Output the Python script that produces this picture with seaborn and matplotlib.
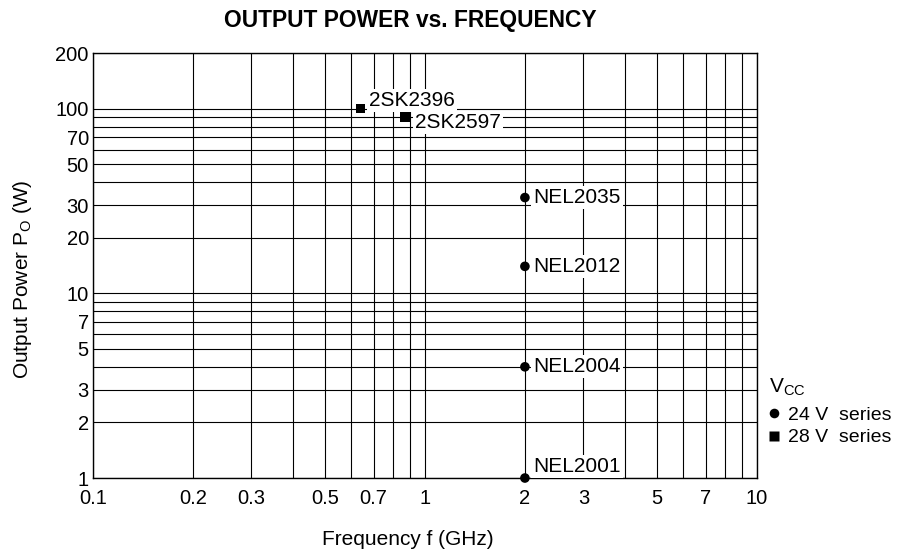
import numpy as np
import pandas as pd
import matplotlib as mpl
import matplotlib.pyplot as plt
from matplotlib.ticker import LogLocator, FixedLocator, FixedFormatter, NullFormatter
import seaborn as sns

# Datos
devices = ['2SK2396', '2SK2597', 'NEL2035', 'NEL2012', 'NEL2004', 'NEL2001']
freq_ghz = [0.64, 0.87, 2.0, 2.0, 2.0, 2.0]
power_w = [100, 90, 33, 14, 4, 1]
series = ['28 V  series', '28 V  series', '24 V  series', '24 V  series', '24 V  series', '24 V  series']

x_ticks = [0.1, 0.2, 0.3, 0.5, 0.7, 1, 2, 3, 5, 7, 10]
x_labels = ['0.1', '0.2', '0.3', '0.5', '0.7', '1', '2', '3', '5', '7', '10']
y_ticks = [1, 2, 3, 5, 7, 10, 20, 30, 50, 70, 100, 200]
y_labels = ['1', '2', '3', '5', '7', '10', '20', '30', '50', '70', '100', '200']

# offsets de las etiquetas (pt)
label_offsets = {'2SK2396': (6, 6), '2SK2597': (7, -4), 'NEL2035': (6, 0),
                 'NEL2012': (6, 0), 'NEL2004': (6, 0), 'NEL2001': (6, 8)}

df = pd.DataFrame({'device': devices, 'freq': freq_ghz, 'power': power_w, 'series': series})

sns.set_theme(style='white')
plt.rcParams['font.family'] = ['Liberation Sans', 'DejaVu Sans']
plt.rcParams['mathtext.fontset'] = 'custom'
plt.rcParams['mathtext.rm'] = 'Liberation Sans'
plt.rcParams['text.color'] = 'black'
plt.rcParams['axes.labelcolor'] = 'black'
plt.rcParams['xtick.color'] = 'black'
plt.rcParams['ytick.color'] = 'black'

fig = plt.figure(figsize=(9.02, 5.57), dpi=100)
ax = fig.add_axes([0.1031, 0.1418, 0.8392 - 0.1031, 0.9048 - 0.1418])

sns.scatterplot(data=df, x='freq', y='power', style='series',
                style_order=['24 V  series', '28 V  series'],
                markers={'24 V  series': 'o', '28 V  series': 's'},
                color='black', s=48, edgecolor='none', ax=ax, zorder=5, clip_on=False)

ax.set_xscale('log')
ax.set_yscale('log')
ax.set_xlim(0.1, 10)
ax.set_ylim(1, 200)

ax.xaxis.set_major_locator(FixedLocator(x_ticks))
ax.xaxis.set_major_formatter(FixedFormatter(x_labels))
ax.yaxis.set_major_locator(FixedLocator(y_ticks))
ax.yaxis.set_major_formatter(FixedFormatter(y_labels))
ax.xaxis.set_minor_locator(LogLocator(base=10, subs=np.arange(2, 10)))
ax.yaxis.set_minor_locator(LogLocator(base=10, subs=np.arange(2, 10)))
ax.xaxis.set_minor_formatter(NullFormatter())
ax.yaxis.set_minor_formatter(NullFormatter())

ax.grid(True, which='both', color='black', linewidth=0.8)
ax.set_axisbelow(True)
ax.tick_params(which='both', length=0, labelsize=14.5)
ax.tick_params(axis='x', pad=8)
ax.tick_params(axis='y', pad=3)
for sp in ax.spines.values():
    sp.set_color('black')
    sp.set_linewidth(1.0)

# etiquetas de los dispositivos
for d, fx, py in zip(devices, freq_ghz, power_w):
    dx, dy = label_offsets[d]
    ax.annotate(d, xy=(fx, py), xytext=(dx, dy), textcoords='offset points',
                ha='left', va='center', fontsize=15, zorder=4,
                bbox=dict(boxstyle='square,pad=0.1', fc='white', ec='none'))

ax.set_xlabel('Frequency f (GHz)', fontsize=15)
ax.set_ylabel(r'Output Power $\mathregular{P_O}$ (W)', fontsize=15)
ax.xaxis.set_label_coords((408 - 93) / (757 - 93), -(530 - 478) / (478 - 53))
ax.yaxis.set_label_coords(-(93 - 34) / (757 - 93), (478 - 279) / (478 - 53))

fig.text(410 / 902, 1 - 21 / 557, 'OUTPUT POWER vs. FREQUENCY', ha='center', va='center',
         fontsize=16.4, fontweight='bold')

sns.move_legend(ax, 'upper left', bbox_to_anchor=(755 / 902, 1 - 363 / 557),
                bbox_transform=fig.transFigure, title=r'$\mathregular{V_{CC}}$',
                frameon=False, fontsize=14, title_fontsize=15,
                handletextpad=0.4, labelspacing=0.25, borderpad=0.2, handlelength=0.6)
leg = ax.get_legend()
leg._legend_box.align = 'left'
leg._legend_box.sep = 6

fig.savefig('out.png', dpi=100)
